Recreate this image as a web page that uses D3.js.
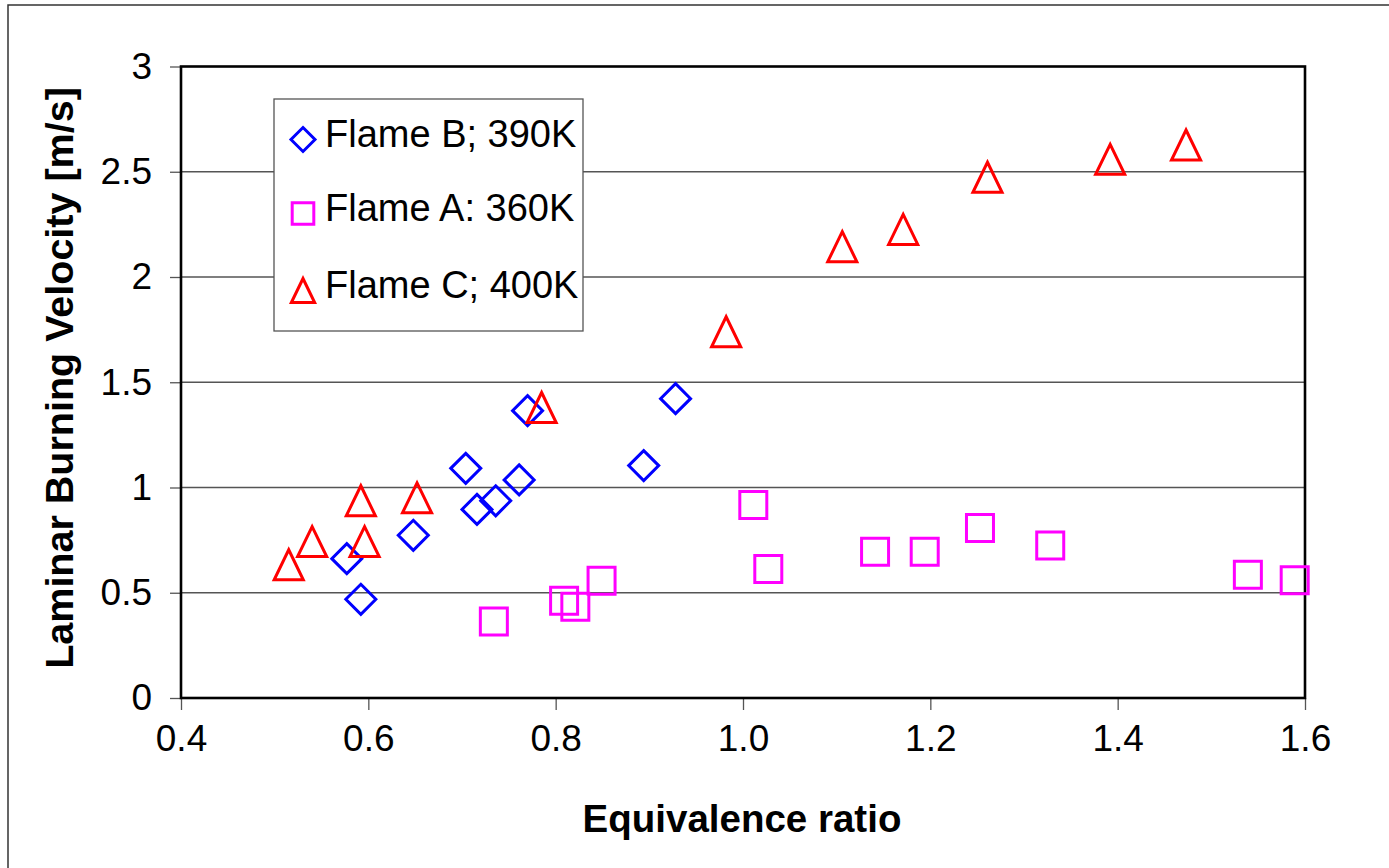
<!DOCTYPE html>
<html>
<head>
<meta charset="utf-8">
<script src="https://cdn.jsdelivr.net/npm/d3@7"></script>
<style>
  html, body { margin: 0; padding: 0; background: #fff; }
  svg { display: block; font-family: "Liberation Sans", Arial, sans-serif; }
</style>
</head>
<body>
<div id="chart"></div>
<script>
// Laminar burning velocity vs equivalence ratio, three flames

// Flame B; 390K (blue diamonds)
const flameBPhi = [0.592, 0.577, 0.648, 0.704, 0.716, 0.736, 0.761, 0.770, 0.894, 0.928];
const flameBVel = [0.469, 0.662, 0.773, 1.091, 0.896, 0.937, 1.036, 1.365, 1.104, 1.422];

// Flame A: 360K (magenta squares)
const flameAPhi = [0.734, 0.809, 0.821, 0.849, 1.011, 1.027, 1.141, 1.194, 1.253, 1.328, 1.539, 1.589];
const flameAVel = [0.363, 0.462, 0.434, 0.557, 0.917, 0.613, 0.695, 0.695, 0.808, 0.724, 0.586, 0.559];

// Flame C; 400K (red triangles)
const flameCPhi = [0.515, 0.540, 0.596, 0.592, 0.652, 0.785, 0.982, 1.106, 1.171, 1.261, 1.392, 1.473];
const flameCVel = [0.633, 0.743, 0.743, 0.937, 0.951, 1.380, 1.740, 2.144, 2.226, 2.474, 2.559, 2.627];

const xTicks = [0.4, 0.6, 0.8, 1.0, 1.2, 1.4, 1.6];
const xTickLabels = ["0.4", "0.6", "0.8", "1.0", "1.2", "1.4", "1.6"];
const yTicks = [0, 0.5, 1, 1.5, 2, 2.5, 3];
const yTickLabels = ["0", "0.5", "1", "1.5", "2", "2.5", "3"];

const seriesNames = ["Flame B; 390K", "Flame A: 360K", "Flame C; 400K"];
const seriesColors = ["#0000ff", "#ff00ff", "#ff0000"];
const seriesShapes = ["diamond", "square", "triangle"];

const series = [
  { phi: flameBPhi, vel: flameBVel },
  { phi: flameAPhi, vel: flameAVel },
  { phi: flameCPhi, vel: flameCVel }
].map((s, i) => ({
  name: seriesNames[i],
  color: seriesColors[i],
  shape: seriesShapes[i],
  points: s.phi.map((p, j) => ({ x: p, y: s.vel[j] }))
}));

// ---- Layout ----
const width = 1389, height = 868;
const plot = { left: 181, right: 1305, top: 66.5, bottom: 698 };

const x = d3.scaleLinear([0.4, 1.6], [plot.left, plot.right]);
const y = d3.scaleLinear([0, 3], [plot.bottom, plot.top]);

// marker outline relative to its centre
function shapePath(shape, s) {
  const p = d3.path();
  if (shape === "diamond") {
    p.moveTo(0, -s); p.lineTo(s, 0); p.lineTo(0, s); p.lineTo(-s, 0); p.closePath();
  } else if (shape === "square") {
    const h = s * 0.9;
    p.rect(-h, -h, 2 * h, 2 * h);
  } else {
    p.moveTo(0, -s); p.lineTo(s * 0.97, s); p.lineTo(-s * 0.97, s); p.closePath();
  }
  return p.toString();
}

const svg = d3.select("#chart").append("svg")
  .attr("width", width)
  .attr("height", height)
  .attr("viewBox", [0, 0, width, height]);

// outer chart border
svg.append("rect")
  .attr("x", 8).attr("y", 5)
  .attr("width", width + 20).attr("height", height + 20)
  .attr("fill", "none")
  .attr("stroke", "#333")
  .attr("stroke-width", 1.5);

// gridlines
svg.append("g")
  .selectAll("line")
  .data(yTicks.filter(d => d > 0 && d < 3))
  .join("line")
  .attr("x1", plot.left).attr("x2", plot.right)
  .attr("y1", d => y(d)).attr("y2", d => y(d))
  .attr("stroke", "#555")
  .attr("stroke-width", 1.3);

// y axis
const yAxis = svg.append("g")
  .attr("transform", `translate(${plot.left},0)`)
  .call(d3.axisLeft(y).tickValues(yTicks).tickFormat((d, i) => yTickLabels[i]).tickSize(11).tickPadding(18));
yAxis.select(".domain").remove();
yAxis.selectAll(".tick line").attr("stroke", "#555").attr("stroke-width", 1.3);
yAxis.selectAll(".tick text")
  .attr("font-size", 37)
  .attr("font-family", "Liberation Sans, Arial, sans-serif")
  .attr("fill", "#000");

// x axis
const xAxis = svg.append("g")
  .attr("transform", `translate(0,${plot.bottom})`)
  .call(d3.axisBottom(x).tickValues(xTicks).tickFormat((d, i) => xTickLabels[i]).tickSize(12).tickPadding(15));
xAxis.select(".domain").remove();
xAxis.selectAll(".tick line").attr("stroke", "#555").attr("stroke-width", 1.3);
xAxis.selectAll(".tick text")
  .attr("font-size", 37)
  .attr("font-family", "Liberation Sans, Arial, sans-serif")
  .attr("fill", "#000");

// plot frame
svg.append("rect")
  .attr("x", plot.left).attr("y", plot.top)
  .attr("width", plot.right - plot.left)
  .attr("height", plot.bottom - plot.top)
  .attr("fill", "none")
  .attr("stroke", "#000")
  .attr("stroke-width", 2.6);

// points
for (const s of series) {
  svg.append("g")
    .selectAll("path")
    .data(s.points)
    .join("path")
    .attr("transform", d => `translate(${x(d.x)},${y(d.y)})`)
    .attr("d", shapePath(s.shape, 15))
    .attr("fill", "none")
    .attr("stroke", s.color)
    .attr("stroke-width", 3);
}

// legend
const legend = svg.append("g").attr("transform", "translate(274,99)");
legend.append("rect")
  .attr("width", 309).attr("height", 232)
  .attr("fill", "#fff")
  .attr("stroke", "#555")
  .attr("stroke-width", 1.3);

const rowY = [40.5, 114.5, 191.5];
const item = legend.selectAll("g.item")
  .data(series)
  .join("g")
  .attr("class", "item")
  .attr("transform", (d, i) => `translate(0,${rowY[i]})`);

item.append("path")
  .attr("transform", "translate(29,0)")
  .attr("d", d => shapePath(d.shape, 12))
  .attr("fill", "none")
  .attr("stroke", d => d.color)
  .attr("stroke-width", 3);

item.append("text")
  .attr("x", 51)
  .attr("y", 7.5)
  .attr("font-size", 38)
  .attr("fill", "#000")
  .text(d => d.name);

// axis titles
svg.append("text")
  .attr("x", 742)
  .attr("y", 832)
  .attr("text-anchor", "middle")
  .attr("font-size", 38.5)
  .attr("font-weight", "bold")
  .text("Equivalence ratio");

svg.append("text")
  .attr("transform", "translate(73,378) rotate(-90)")
  .attr("text-anchor", "middle")
  .attr("font-size", 39.5)
  .attr("font-weight", "bold")
  .text("Laminar Burning Velocity [m/s]");
</script>
</body>
</html>
